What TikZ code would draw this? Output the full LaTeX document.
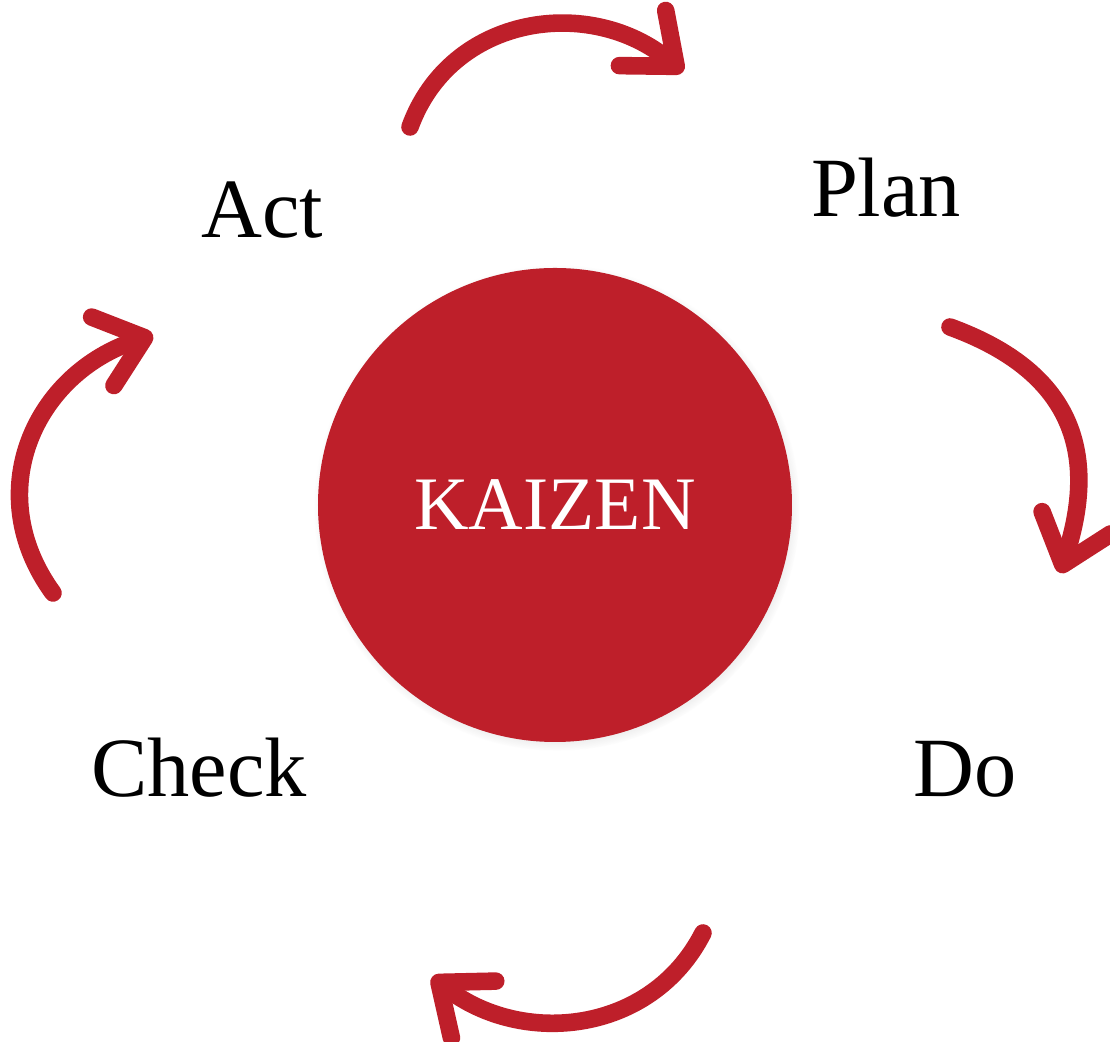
\documentclass[tikz,border=0pt]{standalone}
\usepackage{fontspec}
\setmainfont{Liberation Serif}
\usetikzlibrary{arrows.meta,shadows}
\definecolor{kzred}{RGB}{190,31,42}

\begin{document}
\begin{tikzpicture}[
        cyc/.style={line width=5pt,line cap=round,draw=kzred,-{Straight Barb[length=4.4mm,width=7.2mm,round]}},
        lbl/.style={anchor=base,font=\fontsize{24}{28}\selectfont}]
        \useasboundingbox (0,0) rectangle (11.10,10.42);
        %% Circle in the middle
        \node[circle,fill=kzred,minimum size=4.74cm,text=white,font=\fontsize{21.5}{26}\selectfont,
              circular drop shadow={shadow xshift=0.5pt,shadow yshift=-0.8pt,shadow scale=1.025,opacity=0.45}]
              (kaizen) at (5.55,5.37) {KAIZEN};
        %% Steps
        \foreach \x/\y/\t/\n in {2.62/8.04/Act/act, 8.86/8.25/Plan/plan, 9.65/2.45/Do/do, 1.99/2.45/Check/check} {
            \node[lbl] (\n) at (\x,\y) {\t};
        }
        %% Arrow ends
        \coordinate (act-out)   at (4.10,9.15);
        \coordinate (plan-in)   at (6.83,9.70);
        \coordinate (plan-out)  at (9.50,7.15);
        \coordinate (do-in)     at (10.60,4.69);
        \coordinate (do-out)    at (7.03,1.09);
        \coordinate (check-in)  at (4.32,0.65);
        \coordinate (check-out) at (0.53,4.49);
        \coordinate (act-in)    at (1.53,7.07);
        %% Cycle arrows
        \foreach \s/\e/\o/\i/\l in {act-out/plan-in/70/140/1.1, plan-out/do-in/-20/72/1.22,
                                    do-out/check-in/-117/-38/1.06, check-out/act-in/126/198/1.15} {
            \draw[cyc] (\s) to[out=\o,in=\i,looseness=\l] (\e);
        }
    \end{tikzpicture}
\end{document}
